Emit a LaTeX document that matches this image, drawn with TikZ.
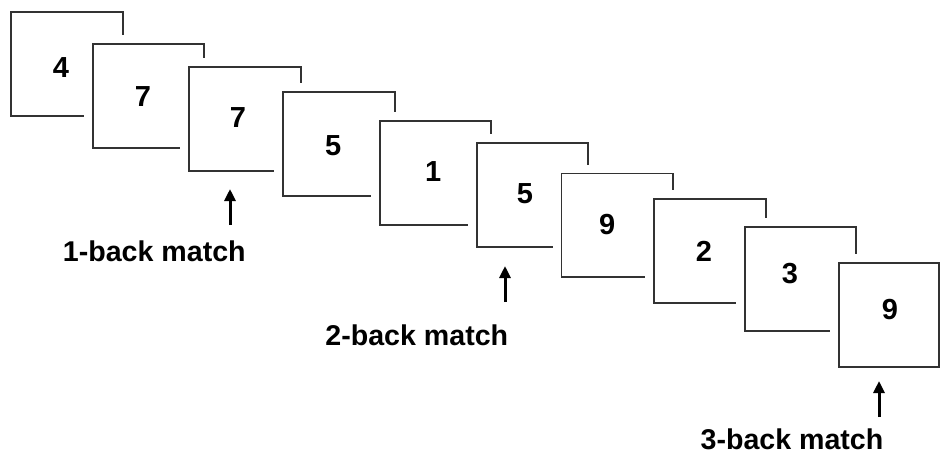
\documentclass[tikz,border=0pt]{standalone}
\usepackage{fontspec}
\setmainfont{Liberation Sans}
\usetikzlibrary{arrows.meta}
\definecolor{edge}{RGB}{50,50,50}
\tikzset{
  card/.style={draw=edge, line width=1.9pt, fill=white, inner sep=0pt,
    preaction={draw=white, line width=18pt}},
  digit/.style={inner sep=0pt, font=\fontsize{29}{31}\selectfont\bfseries},
  tag/.style={inner sep=0pt, anchor=base, font=\fontsize{28.6}{31}\selectfont\bfseries},
  arr/.style={-{Triangle[length=12pt,width=11pt]}, line width=3pt, black}
}
\newcommand{\cardat}[5]{%
  \node[card, minimum width={#4-#2}, minimum height={#5-#3}]
    (#1) at ({(#2+#4)/2},{(#3+#5)/2}) {};}
\begin{document}
\begin{tikzpicture}[x=1pt, y=-1pt]
\useasboundingbox (0,0) rectangle (941,455);
% stack of cards, each one laid over the previous
\cardat{c1}{11}{12}{123}{116}
\node[digit] (d1) at (61,67.5) {4};
\cardat{c2}{92.7}{44}{204}{147.7}
\node[digit] (d2) at (143,96.5) {7};
\cardat{c3}{188.7}{66.7}{300.7}{170.7}
\node[digit] (d3) at (238,117.5) {7};
\cardat{c4}{283.3}{92.3}{395}{196.3}
\node[digit] (d4) at (333.3,145.8) {5};
\cardat{c5}{379.7}{120.7}{491}{224.7}
\node[digit] (d5) at (433.3,171.7) {1};
\cardat{c6}{477.3}{143}{588.3}{247}
\node[digit] (d6) at (525,194) {5};
\cardat{c7}{561.5}{173.5}{673}{277}
\node[digit] (d7) at (607.3,225) {9};
\cardat{c8}{654.3}{199}{766}{302.7}
\node[digit] (d8) at (704,251.7) {2};
\cardat{c9}{744.7}{227.3}{856}{331.3}
\node[digit] (d9) at (790,274) {3};
\cardat{c10}{839.3}{263.3}{939.3}{366.7}
\node[digit] (d10) at (890,310) {9};
% match markers
\coordinate (a1s) at (230,225);
\coordinate (a1e) at (230,189);
\draw[arr] (a1s) -- (a1e);
\node[tag] (t1) at (154.3,261.7) {1-back match};
\coordinate (a2s) at (505,302);
\coordinate (a2e) at (505,266);
\draw[arr] (a2s) -- (a2e);
\node[tag] (t2) at (416.8,345.7) {2-back match};
\coordinate (a3s) at (879,417);
\coordinate (a3e) at (879,381);
\draw[arr] (a3s) -- (a3e);
\node[tag] (t3) at (792,449.3) {3-back match};
\end{tikzpicture}
\end{document}
